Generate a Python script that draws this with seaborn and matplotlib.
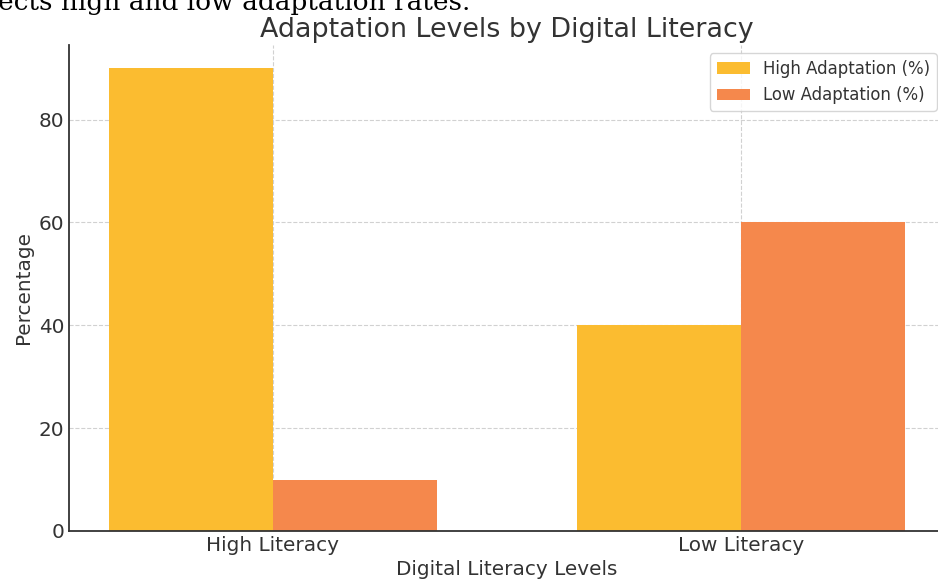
import matplotlib
matplotlib.use("Agg")
import matplotlib.pyplot as plt
import seaborn as sns
import pandas as pd

literacy_levels = ["High Literacy", "Low Literacy"]
high_adaptation = [90, 40]
low_adaptation = [10, 60]
series_names = ["High Adaptation (%)", "Low Adaptation (%)"]
colors = ["#FBBC30", "#F5884C"]

df = pd.DataFrame({
    "Literacy": literacy_levels * 2,
    "Value": high_adaptation + low_adaptation,
    "Series": [series_names[0]] * 2 + [series_names[1]] * 2,
})

sns.set_theme(style="white")
plt.rcParams["font.family"] = ["DejaVu Sans"]
text_color = "#333333"

fig = plt.figure(figsize=(9.38, 5.83), dpi=100)
ax = fig.add_axes([69 / 938, 52 / 583, 876 / 938, 486 / 583])

sns.barplot(data=df, x="Literacy", y="Value", hue="Series", order=literacy_levels,
            hue_order=series_names, palette=colors, saturation=1, width=0.7,
            errorbar=None, linewidth=0, edgecolor="none", ax=ax)

ax.set_xlim(-0.435, 1.435)
ax.set_ylim(0, 94.5)
ax.set_yticks([0, 20, 40, 60, 80])
ax.set_axisbelow(True)
ax.grid(True, linestyle="--", color="#cccccc", linewidth=0.8, alpha=0.9)

for side in ["top", "right"]:
    ax.spines[side].set_visible(False)
for side in ["left", "bottom"]:
    ax.spines[side].set_color("#333333")
    ax.spines[side].set_linewidth(1.3)

ax.tick_params(axis="both", labelsize=14.4, colors=text_color, direction="in",
               length=5, width=1)
ax.tick_params(axis="y", length=0)

ax.set_xlabel("Digital Literacy Levels", fontsize=14.4, color=text_color)
ax.set_ylabel("Percentage", fontsize=14.4, color=text_color)
ax.set_title("Adaptation Levels by Digital Literacy", fontsize=19.4, color=text_color, pad=6)

leg = ax.legend(loc="upper right", fontsize=11.9, frameon=True, borderaxespad=0.5)
for t in leg.get_texts():
    t.set_color(text_color)
leg.get_frame().set_edgecolor("#cccccc")

fig.text(-0.002, 1 - 10 / 583, "ects high and low adaptation rates.",
         family="DejaVu Serif", fontsize=19, color="black", va="baseline", ha="left")

fig.savefig("out.png", dpi=100)
